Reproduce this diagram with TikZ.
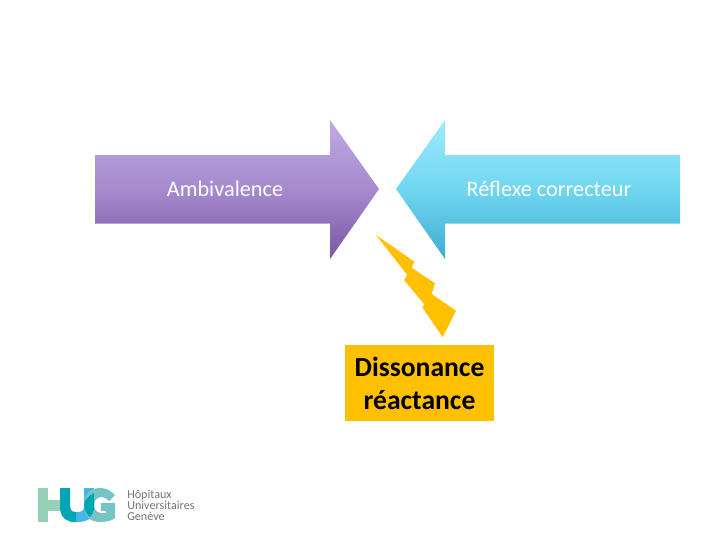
\documentclass[tikz,border=0pt]{standalone}
\usepackage{fontspec}
\setmainfont{Carlito}
\usetikzlibrary{calc}
\definecolor{lilaclight}{RGB}{192,170,228}
\definecolor{lilacmid}{RGB}{165,138,205}
\definecolor{lilacdark}{RGB}{122,86,164}
\definecolor{skylight}{RGB}{156,236,254}
\definecolor{skymid}{RGB}{112,214,240}
\definecolor{skydark}{RGB}{62,172,208}
\definecolor{boltcolor}{RGB}{255,192,0}
\definecolor{hgreen}{RGB}{150,208,182}
\definecolor{utteal}{RGB}{0,166,182}
\definecolor{ublue}{RGB}{70,182,232}
\definecolor{gteal}{RGB}{118,196,196}
\colorlet{loggrey}{white!45!black}
\begin{document}
\begin{tikzpicture}[
    x=0.75pt,y=-0.75pt,
    every node/.style={font=\fontsize{16.7}{20}\selectfont},
    lilac/.style={top color=lilaclight,bottom color=lilacdark,middle color=lilacmid},
    sky/.style={top color=skylight,bottom color=skydark,middle color=skymid},
    arrowtext/.style={text=white,inner sep=0pt},
    logotext/.style={text=loggrey,align=left,inner sep=0pt,anchor=west,
        font=\fontsize{9.1}{8.5}\selectfont}
]
\useasboundingbox (0,0) rectangle (720,540);

% big arrows
\shade [lilac] (95,155) -- (330,155) -- (330,120) -- (379,189) -- (330,259)
    -- (330,223.5) -- (95,223.5) -- cycle;
\shade [sky] (680,155) -- (445,155) -- (445,120) -- (396,189) -- (445,259)
    -- (445,223.5) -- (680,223.5) -- cycle;
\node [arrowtext] (ambi) at (225,189) {Ambivalence};
\node [arrowtext] (reflexe) at (549,189) {Réflexe correcteur};

% bolt
\fill [boltcolor] (376,235) -- (414.3,261.7) -- (411.7,267.7) -- (435,283.3)
    -- (431.7,294) -- (456,310.7) -- (442.7,337.3) -- (422.3,307.3)
    -- (424.3,304.3) -- (404,280) -- (407.3,275) -- cycle;

\node [fill=boltcolor,minimum width=111.75pt,minimum height=56.75pt,inner sep=0pt,
    align=center,font=\fontsize{20.7}{24.75}\selectfont\bfseries] (diss) at (419.5,383)
    {Dissonance\\réactance};

% logo
\fill [hgreen] (38,488) rectangle (48,522);
\fill [hgreen] (48,500) rectangle (61,511);
\fill [ublue] (84,488) -- (94,488) -- (94,509)
    .. controls (94,518) and (87,522) .. (78,522) -- (70,522) -- (70,512) -- (77,512)
    .. controls (81,512) and (84,511) .. (84,507) -- cycle;
\fill [gteal] (115,495) .. controls (110,490) and (106,488) .. (100,488)
    .. controls (90,488) and (84,495) .. (84,505)
    .. controls (84,516) and (90,522) .. (100,522)
    .. controls (106,522) and (112,521) .. (115,518) -- (115,503) -- (101,503) -- (101,511)
    -- (106,511) -- (106,513) .. controls (100,514) and (94,512) .. (94,505)
    .. controls (94,497) and (103,494) .. (109,501) -- cycle;
\fill [utteal] (94,493) -- (94,509) .. controls (94,512) and (92,515) .. (90,517)
    .. controls (87,515) and (84,510) .. (84,504) .. controls (85,500) and (89,495) .. (94,493) -- cycle;
\fill [utteal] (60,488) -- (70,488) -- (70,507) .. controls (70,510) and (72,512) .. (76,512)
    -- (76,522) .. controls (66,522) and (60,517) .. (60,507) -- cycle;
\node [logotext] (hug) at (127,505.5) {Hôpitaux\\Universitaires\\Genève};
\end{tikzpicture}
\end{document}
